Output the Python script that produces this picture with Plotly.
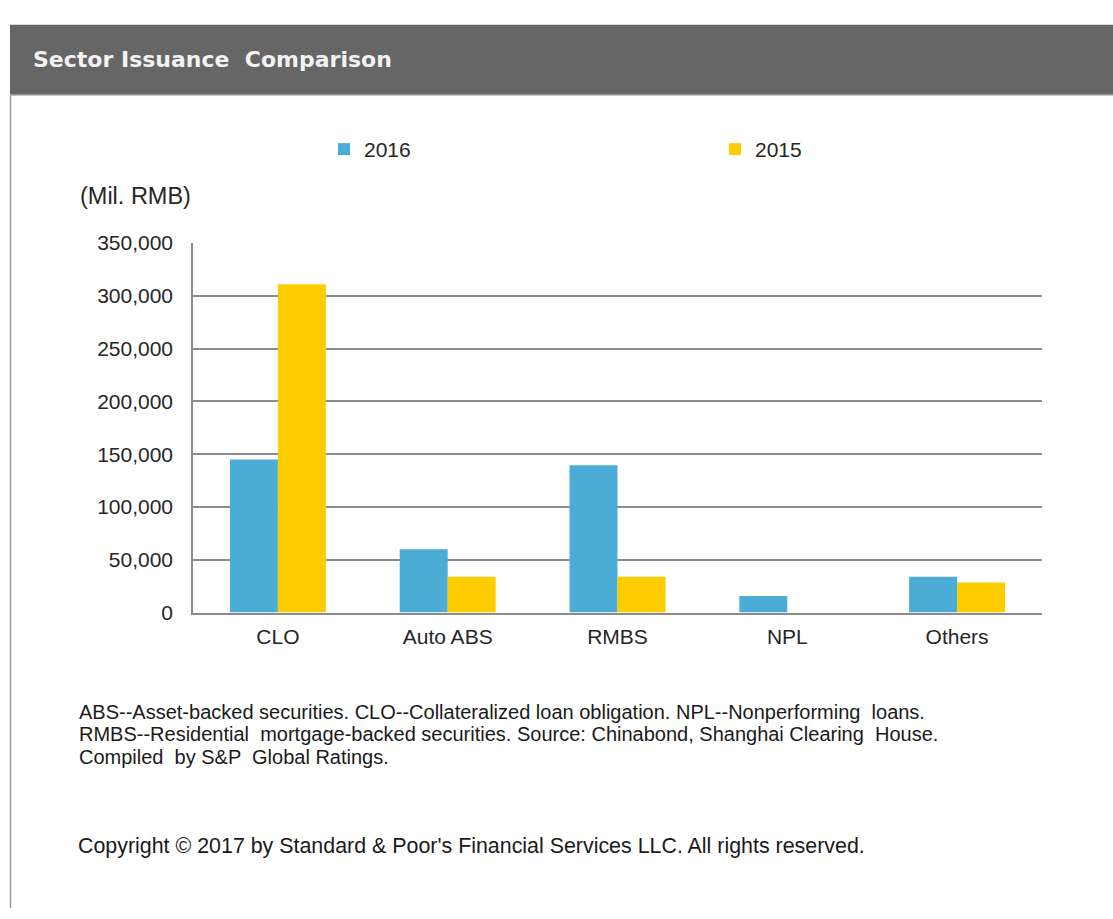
import plotly.graph_objects as go

categories = ["CLO", "Auto ABS", "RMBS", "NPL", "Others"]
series_2016 = [145000, 60000, 139500, 15700, 34000]
series_2015 = [311000, 34000, 34000, 0, 28600]
y_ticks = [0, 50000, 100000, 150000, 200000, 250000, 300000, 350000]

footnote_lines = [
    "ABS--Asset-backed securities. CLO--Collateralized loan obligation. NPL--Nonperforming  loans.",
    "RMBS--Residential  mortgage-backed securities. Source: Chinabond, Shanghai Clearing  House.",
    "Compiled  by S&P  Global Ratings.",
]
copyright_text = "Copyright © 2017 by Standard & Poor's Financial Services LLC. All rights reserved."

W, H = 1113, 919
def px(x):
    return x / W
def py(y):
    return (H - y) / H

FONT = "Liberation Sans, Arial, sans-serif"
GRID = "#8c8c8c"
TXT = "#262626"

fig = go.Figure()
fig.add_trace(go.Bar(name="2016", x=categories, y=series_2016,
                     marker=dict(color="#4BACD6", line=dict(width=0))))
fig.add_trace(go.Bar(name="2015", x=categories, y=series_2015,
                     marker=dict(color="#FFCC00", line=dict(width=0))))

annotations = [
    dict(text="Sector Issuance  Comparison", xref="paper", yref="paper",
         x=px(31), y=py(49), xanchor="left", yanchor="middle", showarrow=False,
         font=dict(family="DejaVu Sans, sans-serif", size=22, color="#f2f2f2", weight="bold")),
    dict(text="(Mil. RMB)", xref="paper", yref="paper", x=px(78), y=py(189),
         xanchor="left", yanchor="middle", showarrow=False,
         font=dict(family=FONT, size=23.5, color=TXT)),
    dict(text=copyright_text, xref="paper", yref="paper", x=px(76), y=py(855),
         xanchor="left", yanchor="middle", showarrow=False,
         font=dict(family=FONT, size=21.4, color="#1a1a1a")),
]
for i, line in enumerate(footnote_lines):
    annotations.append(dict(text=line, xref="paper", yref="paper", x=px(77), y=py(718 + 23 * i),
                            xanchor="left", yanchor="middle", showarrow=False,
                            font=dict(family=FONT, size=20, color="#1a1a1a")))

fig.update_layout(
    width=W, height=H,
    margin=dict(l=0, r=0, t=0, b=0),
    paper_bgcolor="white", plot_bgcolor="white",
    barmode="group", bargap=0.435, bargroupgap=0,
    font=dict(family=FONT, size=21, color=TXT),
    showlegend=True,
    legend=dict(orientation="h", x=px(324), y=py(141), xanchor="left", yanchor="middle",
                entrywidth=346, itemwidth=30, bgcolor="rgba(0,0,0,0)",
                font=dict(family=FONT, size=21, color=TXT)),
    xaxis=dict(domain=[px(193), px(1042)], showline=True, linecolor=GRID, linewidth=1.5,
               ticks="", showgrid=False, ticklabelstandoff=4,
               tickfont=dict(family=FONT, size=21, color=TXT), fixedrange=True),
    yaxis=dict(domain=[py(616), py(237)], range=[0, 350000], tickvals=y_ticks,
               tickformat=",", showgrid=True, gridcolor=GRID, gridwidth=1.5,
               showline=True, linecolor=GRID, linewidth=1.5, zeroline=False,
               ticks="", ticklabelstandoff=14,
               tickfont=dict(family=FONT, size=21, color=TXT), fixedrange=True),
    shapes=[
        dict(type="rect", xref="paper", yref="paper", x0=px(10), x1=1, y0=py(85), y1=py(13),
             fillcolor="#666666", line=dict(width=0), layer="below"),
        dict(type="line", xref="paper", yref="paper", x0=px(10.5), x1=px(10.5), y0=0, y1=py(85),
             line=dict(color="#9a9a9a", width=1.5)),
        dict(type="line", xref="paper", yref="paper", x0=px(10), x1=1, y0=py(85.5), y1=py(85.5),
             line=dict(color="#bdbdbd", width=1)),
    ],
    annotations=annotations,
)

fig.write_html("out.html")
